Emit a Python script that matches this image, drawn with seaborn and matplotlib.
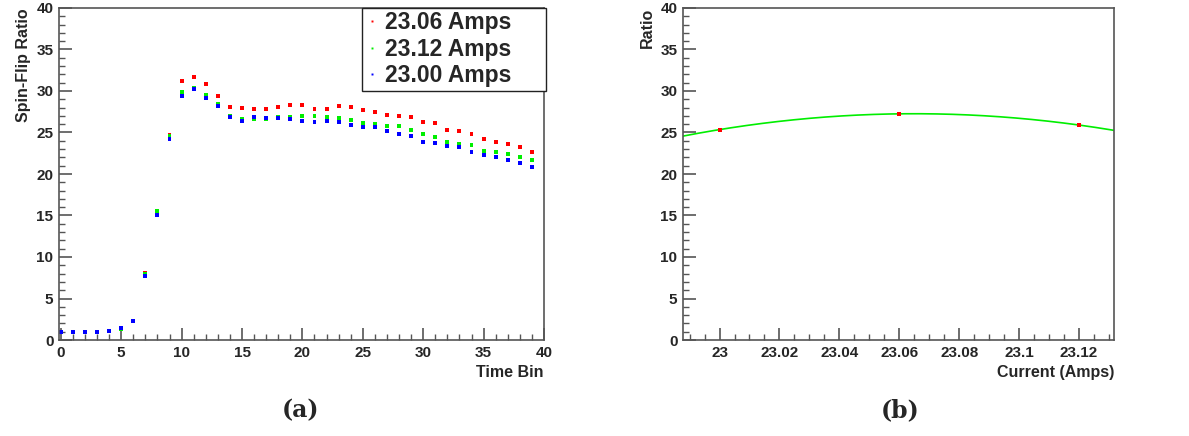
import numpy as np
import pandas as pd
import matplotlib
matplotlib.use("Agg")
import matplotlib.pyplot as plt
from matplotlib.ticker import MultipleLocator, FormatStrFormatter
from matplotlib.font_manager import FontProperties
import seaborn as sns

# ---- data ----
time_bins = list(range(40))
ratio_2306 = [1.0, 1.0, 1.0, 1.0, 1.12, 1.4, 2.29, 8.1, 15.4, 24.7, 31.2, 31.7, 30.84, 29.4,
              28.07, 27.9, 27.79, 27.87, 28.07, 28.31, 28.31, 27.79, 27.87, 28.19, 28.07,
              27.67, 27.47, 27.15, 26.95, 26.87, 26.3, 26.1, 25.34, 25.14, 24.82, 24.22,
              23.86, 23.65, 23.25, 22.61]
ratio_2312 = [1.0, 1.0, 1.0, 1.0, 1.12, 1.35, 2.29, 7.9, 15.5, 24.6, 29.9, 30.36, 29.48, 28.43,
              26.95, 26.67, 26.59, 26.63, 26.83, 26.83, 26.99, 26.99, 26.83, 26.7, 26.5,
              26.18, 25.98, 25.78, 25.78, 25.34, 24.82, 24.5, 23.86, 23.57, 23.45, 22.81,
              22.61, 22.41, 22.05, 21.73]
ratio_2300 = [1.0, 1.0, 1.0, 1.0, 1.12, 1.4, 2.29, 7.75, 15.06, 24.2, 29.35, 30.24, 29.16, 28.19,
              26.83, 26.39, 26.83, 26.75, 26.7, 26.63, 26.39, 26.3, 26.39, 26.27, 25.88,
              25.66, 25.66, 25.14, 24.82, 24.62, 23.86, 23.73, 23.33, 23.21, 22.61, 22.29,
              22.05, 21.73, 21.33, 20.88]
series_labels = ["23.06 Amps", "23.12 Amps", "23.00 Amps"]
series_colors = ["#ff0000", "#00ee00", "#0000ff"]

currents = [23.00, 23.06, 23.12]
peak_ratio = [25.35, 27.25, 25.90]

# ---- build frames ----
df = pd.DataFrame({
    "bin": time_bins * 3,
    "ratio": ratio_2306 + ratio_2312 + ratio_2300,
    "series": [series_labels[0]] * 40 + [series_labels[1]] * 40 + [series_labels[2]] * 40,
})
xmin_b, xmax_b = 22.9878, 23.1317
coef = np.polyfit(currents, peak_ratio, 2)
xf = np.linspace(xmin_b, xmax_b, 300)
fit_df = pd.DataFrame({"current": xf, "ratio": np.polyval(coef, xf)})
pts_df = pd.DataFrame({"current": currents, "ratio": peak_ratio})

sns.set_theme(style="white")
plt.rcParams["font.family"] = ["Liberation Sans", "DejaVu Sans"]
plt.rcParams["font.weight"] = "bold"

W, H = 1189, 436
fig = plt.figure(figsize=(W / 100, H / 100), dpi=100)
axA = fig.add_axes([59 / W, (H - 340) / H, 485 / W, 332 / H])
axB = fig.add_axes([683 / W, (H - 340) / H, 431 / W, 332 / H])

frame_col = "#555555"

def style_axes(ax):
    for side in ["top", "right", "left", "bottom"]:
        ax.spines[side].set_color(frame_col)
        ax.spines[side].set_linewidth(1.2)
    ax.tick_params(axis="both", which="both", direction="in", color=frame_col,
                   top=False, right=False, left=True, bottom=True, labelsize=11,
                   pad=4)
    ax.tick_params(which="major", length=9, width=1.2)
    ax.tick_params(which="minor", length=4.5, width=1.0)
    for lab in ax.get_xticklabels() + ax.get_yticklabels():
        lab.set_fontweight("bold")

# ---- panel (a) ----
sns.scatterplot(data=df, x="bin", y="ratio", hue="series", hue_order=series_labels,
                palette=series_colors, marker="s", s=8, linewidth=0, ax=axA, legend=True)
axA.set_xlim(-0.15, 40)
axA.set_ylim(0, 40)
axA.xaxis.set_major_locator(MultipleLocator(5))
axA.xaxis.set_minor_locator(MultipleLocator(1))
axA.yaxis.set_major_locator(MultipleLocator(5))
axA.yaxis.set_minor_locator(MultipleLocator(1))
axA.set_xlabel("Time Bin", loc="right", fontsize=11.5, fontweight="bold")
axA.set_ylabel("Spin-Flip Ratio", loc="top", fontsize=11.5, fontweight="bold")
style_axes(axA)
legfont = FontProperties(family="Liberation Sans", weight="bold", size=16.5)
leg = axA.legend(loc="upper left", bbox_to_anchor=(0.6247, 0.75, 0.3795, 0.25),
                 mode="expand", borderaxespad=0,
                 frameon=True, fancybox=False, framealpha=1, edgecolor="#222222",
                 prop=legfont, markerscale=0.5,
                 handletextpad=0.25, handlelength=0.6, labelspacing=0.15,
                 borderpad=0.15)
leg.get_frame().set_linewidth(1.0)
for t in leg.get_texts():
    t.set_fontproperties(legfont)

# ---- panel (b) ----
sns.lineplot(data=fit_df, x="current", y="ratio", color="#00ee00", linewidth=1.2, ax=axB)
sns.scatterplot(data=pts_df, x="current", y="ratio", color="#ff0000", marker="s", s=8,
                linewidth=0, ax=axB, zorder=5)
axB.set_xlim(xmin_b, xmax_b)
axB.set_ylim(0, 40)
axB.xaxis.set_major_locator(MultipleLocator(0.02))
axB.xaxis.set_minor_locator(MultipleLocator(0.005))
axB.xaxis.set_major_formatter(FormatStrFormatter("%g"))
axB.yaxis.set_major_locator(MultipleLocator(5))
axB.yaxis.set_minor_locator(MultipleLocator(1))
axB.set_xlabel("Current (Amps)", loc="right", fontsize=11.5, fontweight="bold")
axB.set_ylabel("Ratio", loc="top", fontsize=11.5, fontweight="bold")
style_axes(axB)

# ---- sub-captions ----
fig.text(300 / W, 1 - 410 / H, "(a)", ha="center", va="center", fontsize=17,
         fontweight="bold", family=["DejaVu Serif"])
fig.text(900 / W, 1 - 410 / H, "(b)", ha="center", va="center", fontsize=17,
         fontweight="bold", family=["DejaVu Serif"])

fig.savefig("out.png", dpi=100)
